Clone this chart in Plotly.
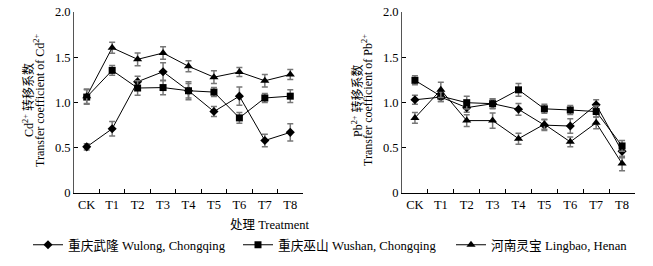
import plotly.graph_objects as go

categories = ["CK", "T1", "T2", "T3", "T4", "T5", "T6", "T7", "T8"]
series_names = ["重庆武隆 Wulong, Chongqing", "重庆巫山 Wushan, Chongqing", "河南灵宝 Lingbao, Henan"]

# Cd transfer coefficient
cd_wulong = [0.51, 0.71, 1.23, 1.34, 1.13, 0.90, 1.07, 0.58, 0.67]
cd_wulong_err = [0.035, 0.08, 0.06, 0.10, 0.10, 0.055, 0.10, 0.07, 0.095]
cd_wushan = [1.06, 1.355, 1.16, 1.165, 1.13, 1.115, 0.83, 1.05, 1.07]
cd_wushan_err = [0.08, 0.055, 0.08, 0.08, 0.08, 0.05, 0.06, 0.05, 0.07]
cd_lingbao = [1.07, 1.605, 1.477, 1.547, 1.40, 1.28, 1.337, 1.24, 1.31]
cd_lingbao_err = [0.08, 0.06, 0.07, 0.07, 0.06, 0.07, 0.05, 0.07, 0.055]

# Pb transfer coefficient
pb_wulong = [1.03, 1.06, 0.943, 0.987, 0.925, 0.75, 0.74, 0.975, 0.46]
pb_wulong_err = [0.05, 0.05, 0.05, 0.05, 0.065, 0.06, 0.08, 0.055, 0.07]
pb_wushan = [1.245, 1.07, 0.998, 0.987, 1.14, 0.93, 0.917, 0.90, 0.52]
pb_wushan_err = [0.05, 0.06, 0.07, 0.055, 0.07, 0.05, 0.05, 0.06, 0.06]
pb_lingbao = [0.83, 1.14, 0.80, 0.80, 0.60, 0.76, 0.565, 0.775, 0.325]
pb_lingbao_err = [0.06, 0.085, 0.065, 0.085, 0.06, 0.055, 0.055, 0.065, 0.08]

y_ticks = [0, 0.5, 1.0, 1.5, 2.0]
y_ticktext = ["0", "0.5", "1.0", "1.5", "2.0"]

FONT = "Liberation Serif, Noto Sans CJK SC"
symbols = ["diamond", "square", "triangle-up"]
sizes = [7, 7, 8]
legend_ids = ["legend", "legend2", "legend3"]

fig = go.Figure()

def add_series(vals, errs, idx, xa, ya, show):
    fig.add_trace(go.Scatter(
        x=categories, y=vals, mode="lines+markers",
        name=series_names[idx], showlegend=show, legend=legend_ids[idx],
        line=dict(color="black", width=1),
        marker=dict(symbol=symbols[idx], size=sizes[idx], color="black"),
        error_y=dict(type="data", array=errs, visible=True, color="#777777", thickness=1.5, width=3),
        xaxis=xa, yaxis=ya,
    ))

add_series(cd_wulong, cd_wulong_err, 0, "x", "y", True)
add_series(cd_wushan, cd_wushan_err, 1, "x", "y", True)
add_series(cd_lingbao, cd_lingbao_err, 2, "x", "y", True)
add_series(pb_wulong, pb_wulong_err, 0, "x2", "y2", False)
add_series(pb_wushan, pb_wushan_err, 1, "x2", "y2", False)
add_series(pb_lingbao, pb_lingbao_err, 2, "x2", "y2", False)

W, H = 653, 266
ydom = [(H - 193) / H, (H - 12) / H]

xcommon = dict(type="category", categoryorder="array", categoryarray=categories, automargin=False,
               range=[-0.5, 8.5], tickson="boundaries", ticks="inside", ticklen=4, tickangle=0,
               tickcolor="black", showline=True, linecolor="black", linewidth=1,
               showgrid=False, zeroline=False, tickfont=dict(family=FONT, size=12.5, color="black"))
ycommon = dict(range=[0, 2.0], tickvals=y_ticks, ticktext=y_ticktext, ticks="inside", ticklen=4,
               automargin=False,
               tickcolor="black", showline=True, linecolor="#555555", linewidth=1,
               showgrid=False, zeroline=False, tickfont=dict(family=FONT, size=12.5, color="black"))

legend_common = dict(orientation="h", yanchor="middle", xanchor="left",
                     font=dict(family=FONT, size=12.7, color="black"), bgcolor="rgba(0,0,0,0)",
                     itemwidth=30, borderwidth=0)
ly = (H - 245) / H

fig.update_layout(
    width=W, height=H,
    margin=dict(l=0, r=0, t=0, b=0, autoexpand=False),
    paper_bgcolor="white", plot_bgcolor="white",
    font=dict(family=FONT, size=12, color="black"),
    xaxis=dict(domain=[74 / W, 303 / W], anchor="y", **xcommon),
    yaxis=dict(domain=ydom, anchor="x", **ycommon),
    xaxis2=dict(domain=[402 / W, 635 / W], anchor="y2", **xcommon),
    yaxis2=dict(domain=ydom, anchor="x2", **ycommon),
    showlegend=True,
    legend=dict(x=28 / W, y=ly, **legend_common),
    legend2=dict(x=238 / W, y=ly, **legend_common),
    legend3=dict(x=451 / W, y=ly, **legend_common),
)

for txt, xx in [("Cd<sup>2+</sup> 转移系数", 28), ("Transfer coefficient of Cd<sup>2+</sup>", 39),
                ("Pb<sup>2+</sup> 转移系数", 357), ("Transfer coefficient of Pb<sup>2+</sup>", 367)]:
    fig.add_annotation(text=txt, textangle=-90, xref="paper", yref="paper",
                       x=xx / W, y=(H - 100) / H, xanchor="center", yanchor="middle",
                       showarrow=False, font=dict(family=FONT, size=12))
fig.add_annotation(text="处理 Treatment", xref="paper", yref="paper",
                   x=270 / W, y=(H - 225) / H, xanchor="center", yanchor="middle",
                   showarrow=False, font=dict(family=FONT, size=12.5))

fig.write_html("out.html", config={"displayModeBar": False},
               post_script="document.body.style.margin='0';document.body.style.padding='0';document.body.style.overflow='hidden';")
